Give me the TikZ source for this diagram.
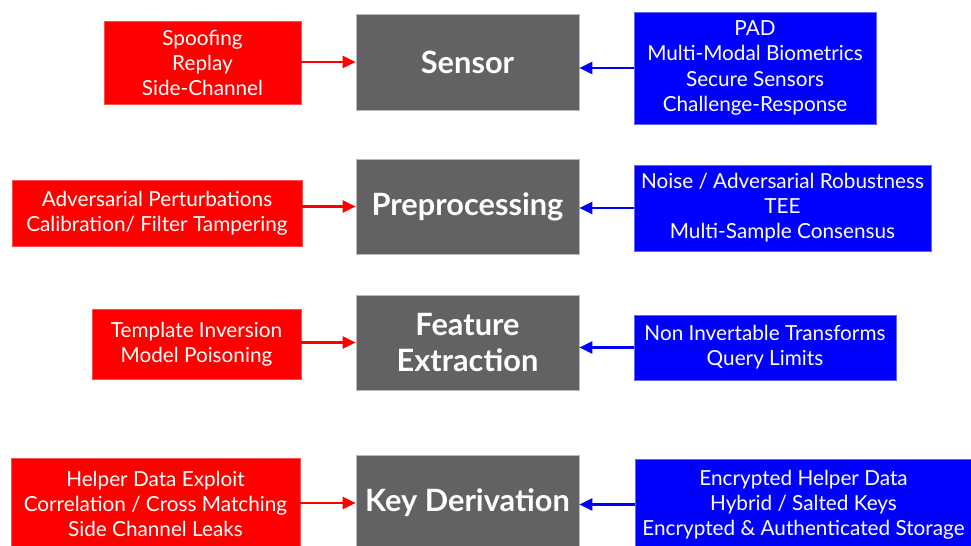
\documentclass[tikz,border=0pt]{standalone}
\usepackage{fontspec}
\setmainfont{Lato}
\usetikzlibrary{arrows.meta,positioning,calc}
\definecolor{stgray}{RGB}{98,98,100}
\definecolor{thrred}{RGB}{255,0,0}
\definecolor{defblue}{RGB}{0,0,255}
\tikzset{
  stage/.style={draw=gray!55, fill=stgray, text=white, inner sep=0pt,
                minimum width=4.46cm, minimum height=1.92cm, align=center,
                font=\fontsize{17.5}{20.5}\selectfont\bfseries},
  threat/.style={draw=red!70!white, fill=thrred, text=white, inner sep=0pt,
                 align=center, font=\fontsize{11.8}{14.3}\selectfont},
  defense/.style={draw=blue!60!white, fill=defblue, text=white, inner sep=0pt,
                  align=center, font=\fontsize{11.8}{14.3}\selectfont},
  thrarr/.style={-{Triangle[length=2.6mm,width=2.4mm]}, thrred, line width=1.2pt},
  defarr/.style={-{Triangle[length=2.6mm,width=2.4mm]}, defblue, line width=1.2pt},
}

\begin{document}
\begin{tikzpicture}
    \useasboundingbox (0,0) rectangle (19.42,-10.92);
    \clip (0,0) rectangle (19.42,-10.92);
    % pipeline stages
    \node[stage] (sens) at (9.35,-1.24) {Sensor};
    \node[stage, minimum height=1.9cm] (prep) at (9.35,-4.13) {Preprocessing};
    \node[stage, minimum height=1.9cm] (feat) at (9.35,-6.85) {Feature\\Extraction};
    \node[stage] (keyd) at (9.35,-10.06) {Key Derivation};
    % attacks
    \node[threat, minimum width=3.94cm, minimum height=1.66cm] (thr1) at (4.05,-1.26)
      {Spoofing\\Replay\\Side-Channel};
    \node[threat, minimum width=5.8cm, minimum height=1.32cm] (thr2) at (3.14,-4.26)
      {Adversarial Perturbations\\Calibration/ Filter Tampering};
    \node[threat, minimum width=4.18cm, minimum height=1.4cm] (thr3) at (3.93,-6.88)
      {Template Inversion\\Model Poisoning};
    \node[threat, minimum width=5.78cm, minimum height=1.82cm] (thr4) at (3.11,-10.08)
      {Helper Data Exploit\\Correlation / Cross Matching\\Side Channel Leaks};
    % countermeasures
    \node[defense, minimum width=4.84cm, minimum height=2.24cm] (def1) at (15.1,-1.36)
      {PAD\\Multi-Modal Biometrics\\Secure Sensors\\Challenge-Response};
    \node[defense, minimum width=5.94cm, minimum height=1.72cm] (def2) at (15.65,-4.16)
      {Noise / Adversarial Robustness\\TEE\\Multi-Sample Consensus};
    \node[defense, minimum width=5.24cm, minimum height=1.3cm] (def3) at (15.3,-6.95)
      {Non Invertable Transforms\\Query Limits};
    \node[defense, minimum width=6.74cm, minimum height=1.82cm] (def4) at (16.07,-10.09)
      {Encrypted Helper Data\\Hybrid / Salted Keys\\Encrypted \& Authenticated Storage};
    % arrows
    \foreach \t/\s in {thr1/sens, thr2/prep, thr3/feat, thr4/keyd}
      \draw[thrarr] (\t.east |- \s.west) -- (\s.west);
    \foreach \d/\s in {def1/sens, def2/prep, def3/feat, def4/keyd}
      \draw[defarr] (\d.west) -- (\s.east |- \d.west);
\end{tikzpicture}
\end{document}
